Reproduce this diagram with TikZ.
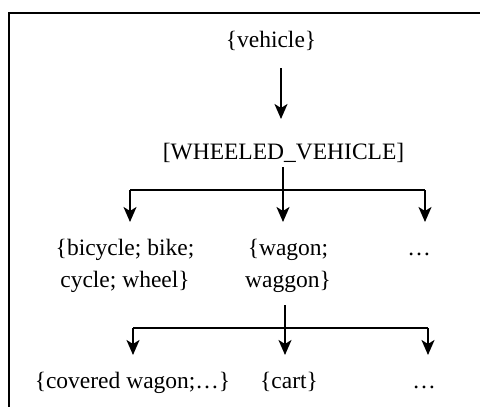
\documentclass[tikz,border=0pt]{standalone}
\usepackage{fontspec}
\setmainfont{Liberation Serif}
\usetikzlibrary{arrows.meta}
\begin{document}
\begin{tikzpicture}[x=1pt,y=-1pt,
  lbl/.style={inner sep=0pt,anchor=base,font=\fontsize{23.5}{32}\selectfont,align=center},
  conn/.style={line width=1.9pt},
  arr/.style={conn,-{Stealth[length=15pt,width=13pt,inset=4pt]}}]
\useasboundingbox (0,0) rectangle (480,407);
\begin{scope}
\clip (0,0) rectangle (480,407);
\draw[line width=1.8pt] (9,13) rectangle (500,430);
\end{scope}
\node[lbl] (veh) at (271,47) {\{vehicle\}};
\node[lbl] (wv) at (283.5,159) {[WHEELED\_VEHICLE]};
\node[lbl] (bic) at (125,287) {\{bicycle; bike;\\cycle; wheel\}};
\node[lbl] (wag) at (288,287) {\{wagon;\\waggon\}};
\node[lbl] (dots1) at (419,255) {\dots};
\node[lbl] (cov) at (132.5,388) {\{covered wagon;\dots\}};
\node[lbl] (cart) at (289,388) {\{cart\}};
\node[lbl] (dots2) at (424,388) {\dots};
% level 1
\coordinate (a0) at (281,68);
\coordinate (a1) at (281,119);
\draw[arr] (a0) -- (a1);
% level 2
\coordinate (b0) at (283,167);
\coordinate (bl) at (130,190);
\coordinate (br) at (425,190);
\coordinate (bt1) at (130,222);
\coordinate (bt2) at (283,222);
\coordinate (bt3) at (425,222);
\draw[conn] (bl) -- (br);
\draw[arr] (b0) -- (bt2);
\draw[arr] (bl) -- (bt1);
\draw[arr] (br) -- (bt3);
% level 3
\coordinate (c0) at (285,305);
\coordinate (cl) at (133,328);
\coordinate (cr) at (428,328);
\coordinate (ct1) at (133,355);
\coordinate (ct2) at (285,355);
\coordinate (ct3) at (428,355);
\draw[conn] (cl) -- (cr);
\draw[arr] (c0) -- (ct2);
\draw[arr] (cl) -- (ct1);
\draw[arr] (cr) -- (ct3);
\end{tikzpicture}
\end{document}
